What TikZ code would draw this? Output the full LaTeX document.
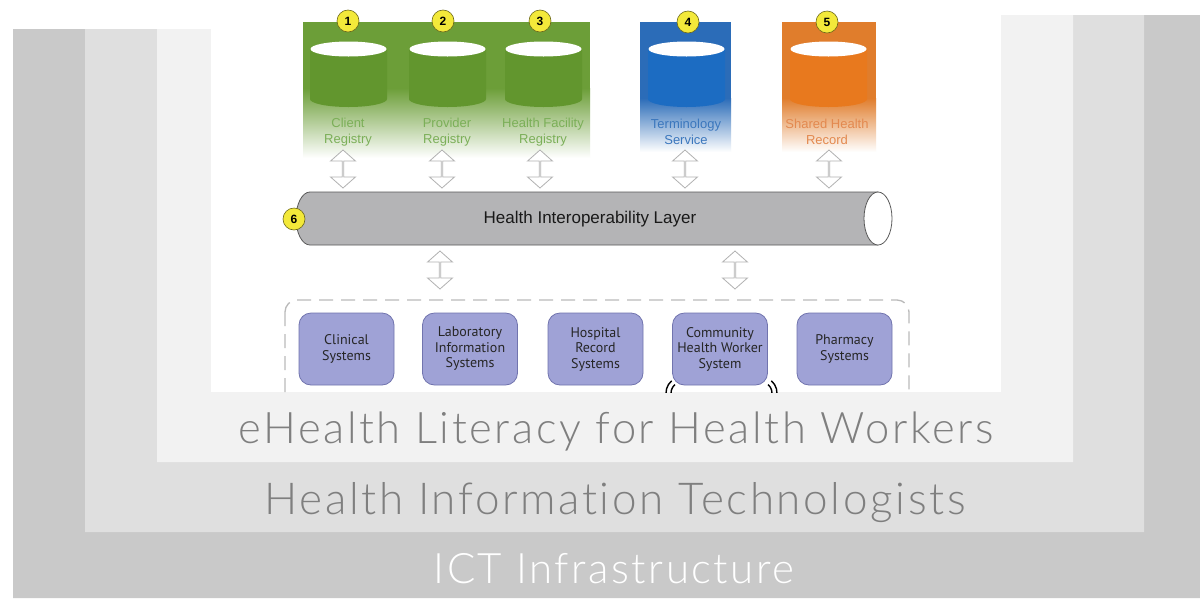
\documentclass[tikz,border=0pt]{standalone}
\usepackage{fontspec}
\setmainfont{Liberation Sans}
\newfontfamily\layerfont{Lato Light}[LetterSpace=6,Ligatures=NoCommon]
\newfontfamily\boxfont{PT Sans}
\usetikzlibrary{shapes.arrows}

\definecolor{layerA}{HTML}{C9C9C9}
\definecolor{layerB}{HTML}{DFDFDF}
\definecolor{layerC}{HTML}{F2F2F2}
\definecolor{layertext}{HTML}{7F7F7F}
\definecolor{regGreen}{HTML}{6C9E38}
\definecolor{cylGreen}{HTML}{62962E}
\definecolor{txtGreen}{HTML}{7BAF58}
\definecolor{regBlue}{HTML}{2B6CB8}
\definecolor{cylBlue}{HTML}{1C6CC2}
\definecolor{txtBlue}{HTML}{3B77BD}
\definecolor{regOrange}{HTML}{E07D2C}
\definecolor{cylOrange}{HTML}{E8791E}
\definecolor{txtOrange}{HTML}{E3894F}
\definecolor{numYellow}{HTML}{F3E93A}
\definecolor{pipeGray}{HTML}{B4B4B6}
\definecolor{sysFill}{HTML}{9FA2D6}
\definecolor{sysDraw}{HTML}{7174AE}

\begin{document}
\begin{tikzpicture}[x=1pt,y=-1pt,
		num/.style={circle,fill=numYellow,draw=black!55!numYellow,line width=0.6pt,minimum size=22pt,inner sep=0pt,font=\fontsize{12}{12}\selectfont\bfseries},
		reglabel/.style={align=center,font=\fontsize{13}{16}\selectfont},
		dbl/.style={double arrow,shape border rotate=90,draw=black!30,fill=white,line width=0.8pt,minimum height=38pt,minimum width=25pt,double arrow head extend=7pt,double arrow tip angle=97,inner sep=0pt},
		sysbox/.style={draw=sysDraw,fill=sysFill,line width=0.8pt,rounded corners=12pt,minimum width=95pt,minimum height=72pt,align=center,inner sep=0pt,font=\boxfont\fontsize{14}{15.5}\selectfont,text=black!85},
		layer/.style={anchor=base,font=\layerfont\fontsize{42}{42}\selectfont}]
	\useasboundingbox (0,0) rectangle (1200,598);
	\fill[layerA] (13,29)--(600,29)--(600,15)--(1200,15)--(1200,598)--(13,598)--cycle;
	\fill[layerB] (85,29)--(600,29)--(600,15)--(1144,15)--(1144,532)--(85,532)--cycle;
	\fill[layerC] (157,29)--(600,29)--(600,15)--(1073,15)--(1073,462)--(157,462)--cycle;
	\fill[white] (211,0) rectangle (1001,392);

	\fill[regGreen] (303,22) rectangle (590,88);
	\shade[top color=regGreen,bottom color=white] (303,88) rectangle (590,158);
	\fill[regBlue] (640,22) rectangle (731,98);
	\shade[top color=regBlue,bottom color=white] (640,98) rectangle (731,152);
	\fill[regOrange] (782,22) rectangle (876,98);
	\shade[top color=regOrange,bottom color=white] (782,98) rectangle (876,152);

	\foreach \cx/\cc in {348.5/cylGreen,447.5/cylGreen,543.5/cylGreen,686.5/cylBlue,828.5/cylOrange}{
		\fill[\cc] (\cx-38.5,49) -- (\cx-38.5,99) arc[start angle=180,end angle=360,x radius=38.5pt,y radius=8pt] -- (\cx+38.5,49) -- cycle;
		\fill[white] (\cx,49) ellipse[x radius=38pt,y radius=7.5pt];
	}

	\node[num] (n1) at (348,21) {1};
	\node[num] (n2) at (443,21) {2};
	\node[num] (n3) at (540,21) {3};
	\node[num] (n4) at (688,22) {4};
	\node[num] (n5) at (827,22) {5};

	\node[reglabel,text=txtGreen] (client) at (348,132) {Client\\Registry};
	\node[reglabel,text=txtGreen] (prov) at (447,132) {Provider\\Registry};
	\node[reglabel,text=txtGreen] (facil) at (543,132) {Health Facility\\Registry};
	\node[reglabel,text=txtBlue] (term) at (686,132) {Terminology\\Service};
	\node[reglabel,text=txtOrange] (shr) at (827,132) {Shared Health\\Record};

	\node[dbl] (a1) at (343,169) {};
	\node[dbl] (a2) at (442,169) {};
	\node[dbl] (a3) at (540,169) {};
	\node[dbl] (a4) at (685,169) {};
	\node[dbl] (a5) at (829,169) {};

	\fill[pipeGray] (878,192) -- (310,192) arc[start angle=90,end angle=270,x radius=14pt,y radius=26.5pt] -- (878,245) -- cycle;
	\draw[black!65,line width=0.8pt] (878,192) -- (310,192) arc[start angle=90,end angle=270,x radius=14pt,y radius=26.5pt] -- (878,245);
	\draw[black!65,fill=white,line width=0.8pt] (878,218.5) ellipse[x radius=14pt,y radius=26.5pt];
	\node[font=\fontsize{17}{17}\selectfont,text=black!90] (hil) at (590,219) {Health Interoperability Layer};
	\node[num] (n6) at (294,219) {6};

	\node[dbl] (b1) at (440,270) {};
	\node[dbl] (b2) at (735,270) {};

	\begin{scope}
		\clip (211,0) rectangle (1001,392);
		\draw[black!27,line width=1.3pt,dash pattern=on 14pt off 8pt,rounded corners=12pt] (285,300) rectangle (909,440);
		\draw[black,line width=1.4pt] (682,393) ++(130:11pt) arc[start angle=130,end angle=200,radius=11pt];
		\draw[black,line width=1.4pt] (682,393) ++(130:16pt) arc[start angle=130,end angle=200,radius=16pt];
		\draw[black,line width=1.4pt] (761,393) ++(50:11pt) arc[start angle=50,end angle=-20,radius=11pt];
		\draw[black,line width=1.4pt] (761,393) ++(50:16pt) arc[start angle=50,end angle=-20,radius=16pt];
	\end{scope}

	\node[sysbox] (clin) at (346.5,349) {Clinical\\Systems};
	\node[sysbox] (lab) at (470,349) {Laboratory\\Information\\Systems};
	\node[sysbox] (hosp) at (595.5,349) {Hospital\\Record\\Systems};
	\node[sysbox] (chw) at (720,349) {Community\\Health Worker\\System};
	\node[sysbox] (pharm) at (844.5,349) {Pharmacy\\Systems};

	\node[layer,text=layertext,font=\layerfont\fontsize{43.5}{43.5}\selectfont] (lit) at (616,443) {eHealth Literacy for Health Workers};
	\node[layer,text=layertext,font=\layerfont\fontsize{44}{44}\selectfont] (hit) at (615,514) {Health Information Technologists};
	\node[layer,text=white] (ict) at (614,583) {ICT Infrastructure};
\end{tikzpicture}
\end{document}
